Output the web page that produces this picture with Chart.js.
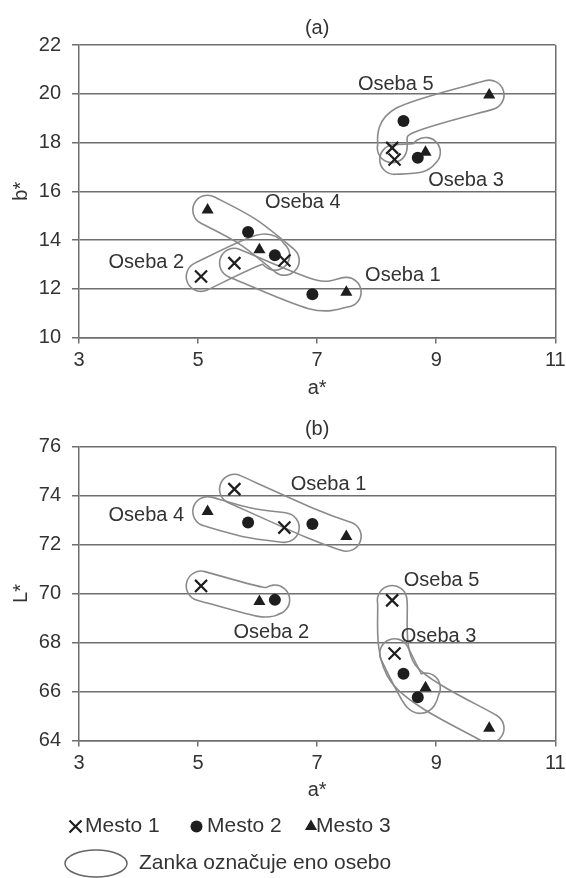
<!DOCTYPE html>
<html>
<head>
<meta charset="utf-8">
<script src="https://cdn.jsdelivr.net/npm/chart.js@4.4.1/dist/chart.umd.min.js"></script>
<style>
  html, body { margin: 0; padding: 0; background: #fff; }
  #wrap { position: relative; width: 566px; height: 878px; overflow: hidden; }
  #chartA { position: absolute; left: 0; top: 0; }
  #chartB { position: absolute; left: 0; top: 400px; }
</style>
</head>
<body>
<div id="wrap">
  <canvas id="chartA" width="566" height="400"></canvas>
  <canvas id="chartB" width="566" height="478"></canvas>
</div>
<script>
const osebe = ['Oseba 1', 'Oseba 2', 'Oseba 3', 'Oseba 4', 'Oseba 5'];
const mesta = ['Mesto 1', 'Mesto 2', 'Mesto 3'];
const xTicks = [3, 5, 7, 9, 11];
const bTicks = [10, 12, 14, 16, 18, 20, 22];
const lTicks = [64, 66, 68, 70, 72, 74, 76];

// a* per person (index = oseba), same in both panels
const aMesto1 = [5.61, 5.05, 8.30, 6.45, 8.26];
const aMesto2 = [6.92, 6.29, 8.69, 5.84, 8.45];
const aMesto3 = [7.49, 6.03, 8.82, 5.16, 9.89];

// b* (panel a)
const bMesto1 = [13.05, 12.50, 17.30, 13.16, 17.78];
const bMesto2 = [11.77, 13.37, 17.37, 14.33, 18.88];
const bMesto3 = [11.86, 13.60, 17.60, 15.23, 19.95];

// L* (panel b)
const lMesto1 = [74.26, 70.31, 67.55, 72.69, 69.72];
const lMesto2 = [72.84, 69.74, 65.77, 72.90, 66.72];
const lMesto3 = [72.33, 69.67, 66.15, 73.35, 64.50];

// where the "Oseba n" notes sit, in axis units
const notesA = [[8.44, 12.55], [4.13, 13.09], [9.50, 16.45], [6.76, 15.53], [8.32, 20.40]];
const notesB = [[7.19, 74.43], [6.23, 68.42], [9.04, 68.24], [4.13, 73.20], [9.09, 70.55]];

const ink = '#1e1e1e';
const textCol = '#333333';
const gridCol = '#6f6f6f';
const loopCol = '#8a8a8a';
const fontFam = 'Arial, "Liberation Sans", Helvetica, sans-serif';

Chart.defaults.font.family = fontFam;
Chart.defaults.color = textCol;

function tracePath(ctx, pts) {
    ctx.beginPath();
    ctx.moveTo(pts[0].x, pts[0].y);
    for (let i = 0; i < pts.length - 1; i++) {
        const p0 = pts[Math.max(i - 1, 0)], p1 = pts[i], p2 = pts[i + 1], p3 = pts[Math.min(i + 2, pts.length - 1)];
        ctx.bezierCurveTo(p1.x + (p2.x - p0.x) / 6, p1.y + (p2.y - p0.y) / 6,
                          p2.x - (p3.x - p1.x) / 6, p2.y - (p3.y - p1.y) / 6, p2.x, p2.y);
    }
}

// one loop per person, drawn as the outline of a fat stroke through its three points
const loopsPlugin = {
    id: 'loops',
    beforeDatasetsDraw(chart) {
        const { ctx, chartArea, scales: { x, y } } = chart;
        const sets = chart.data.datasets;
        const radius = 14, width = 1.6;
        ctx.save();
        ctx.beginPath();
        ctx.rect(chartArea.left, chartArea.top, chartArea.right - chartArea.left, chartArea.bottom - chartArea.top);
        ctx.clip();
        osebe.forEach((name, i) => {
            const pts = sets.map(ds => ds.data[i]).sort((p, q) => p.x - q.x)
                .map(p => ({ x: x.getPixelForValue(p.x), y: y.getPixelForValue(p.y) }));
            const off = document.createElement('canvas');
            off.width = chart.width;
            off.height = chart.height;
            const o = off.getContext('2d');
            o.lineCap = 'round';
            o.lineJoin = 'round';
            tracePath(o, pts);
            o.strokeStyle = loopCol;
            o.lineWidth = 2 * radius + 2 * width;
            o.stroke();
            o.globalCompositeOperation = 'destination-out';
            o.lineWidth = 2 * radius;
            o.stroke();
            ctx.drawImage(off, 0, 0);
        });
        ctx.restore();
    }
};

const notesPlugin = {
    id: 'notes',
    afterDatasetsDraw(chart, args, opts) {
        const { ctx, chartArea, scales: { x, y } } = chart;
        ctx.save();
        ctx.fillStyle = textCol;
        ctx.font = '20px ' + fontFam;
        ctx.textAlign = 'center';
        ctx.textBaseline = 'middle';
        ctx.fillText(opts.title, (chartArea.left + chartArea.right) / 2, chartArea.top - 17);
        opts.labels.forEach((p, i) => ctx.fillText(osebe[i], x.getPixelForValue(p[0]), y.getPixelForValue(p[1])));
        ctx.restore();
    }
};

const keyPlugin = {
    id: 'key',
    afterDraw(chart, args, opts) {
        if (!opts.show) return;
        const ctx = chart.ctx;
        const markX = [75.5, 196.5, 311];
        const textX = [85, 207, 316];
        const row1 = 426.5, row2 = 463.5;
        ctx.save();
        ctx.font = '21px ' + fontFam;
        ctx.textBaseline = 'middle';
        ctx.textAlign = 'left';
        chart.data.datasets.forEach((ds, i) => {
            ctx.fillStyle = ink;
            ctx.strokeStyle = ink;
            ctx.lineWidth = ds.borderWidth;
            Chart.helpers.drawPoint(ctx, { pointStyle: ds.pointStyle, radius: ds.pointRadius, borderWidth: ds.borderWidth, rotation: 0 }, markX[i], row1);
            ctx.fillStyle = textCol;
            ctx.fillText(ds.label, textX[i], row1);
        });
        ctx.beginPath();
        ctx.ellipse(96, row2, 31, 13.5, 0, 0, Math.PI * 2);
        ctx.strokeStyle = '#666';
        ctx.lineWidth = 1.5;
        ctx.stroke();
        ctx.fillStyle = textCol;
        ctx.fillText('Zanka označuje eno osebo', 139, row2);
        ctx.restore();
    }
};

function pairs(xs, ys) {
    return xs.map((v, i) => ({ x: v, y: ys[i] }));
}

function buildSets(ys1, ys2, ys3) {
    return [
        { label: mesta[0], data: pairs(aMesto1, ys1), pointStyle: 'crossRot', pointRadius: 8.5, borderWidth: 2.2, borderColor: ink, backgroundColor: ink },
        { label: mesta[1], data: pairs(aMesto2, ys2), pointStyle: 'circle', pointRadius: 6, borderWidth: 0, borderColor: ink, backgroundColor: ink },
        { label: mesta[2], data: pairs(aMesto3, ys3), pointStyle: 'triangle', pointRadius: 7, borderWidth: 0, borderColor: ink, backgroundColor: ink }
    ];
}

function makeChart(id, sets, yTicks, yTitle, panel, notes, pad, xHeight, showKey) {
    return new Chart(document.getElementById(id), {
        type: 'scatter',
        data: { datasets: sets },
        options: {
            responsive: false,
            animation: false,
            devicePixelRatio: 1,
            events: [],
            layout: { padding: pad },
            scales: {
                x: {
                    type: 'linear',
                    min: xTicks[0], max: xTicks[xTicks.length - 1],
                    afterBuildTicks: s => { s.ticks = xTicks.map(v => ({ value: v })); },
                    ticks: { color: textCol, font: { size: 20 }, padding: 5, maxRotation: 0 },
                    grid: {
                        color: c => (c.tick && c.tick.value === xTicks[xTicks.length - 1]) ? gridCol : 'rgba(0,0,0,0)',
                        lineWidth: 1.5, tickLength: 6, tickColor: gridCol, tickWidth: 1.5
                    },
                    border: { color: gridCol, width: 1.5 },
                    title: { display: true, text: 'a*', color: textCol, font: { size: 20 }, padding: { top: 0, bottom: 0 } },
                    afterFit: s => { s.height = xHeight; s.paddingLeft = 0; s.paddingRight = 0; }
                },
                y: {
                    type: 'linear',
                    min: yTicks[0], max: yTicks[yTicks.length - 1],
                    afterBuildTicks: s => { s.ticks = yTicks.map(v => ({ value: v })); },
                    ticks: { color: textCol, font: { size: 20 }, padding: 11 },
                    grid: { color: gridCol, lineWidth: 1.5, tickLength: 7, tickColor: gridCol, tickWidth: 1.5 },
                    border: { color: gridCol, width: 1.5 },
                    title: { display: true, text: yTitle, color: textCol, font: { size: 20 }, padding: { top: 9, bottom: 0 } },
                    afterFit: s => { s.width = 79; }
                }
            },
            plugins: {
                legend: { display: false },
                tooltip: { enabled: false },
                title: { display: false },
                notes: { title: panel, labels: notes },
                key: { show: showKey }
            }
        },
        plugins: [loopsPlugin, notesPlugin, keyPlugin]
    });
}

makeChart('chartA', buildSets(bMesto1, bMesto2, bMesto3), bTicks, 'b*', '(a)', notesA,
    { top: 45, right: 10, bottom: 0, left: 0 }, 62.5, false);
makeChart('chartB', buildSets(lMesto1, lMesto2, lMesto3), lTicks, 'L*', '(b)', notesB,
    { top: 46.5, right: 10, bottom: 76, left: 0 }, 61.5, true);
</script>
</body>
</html>
